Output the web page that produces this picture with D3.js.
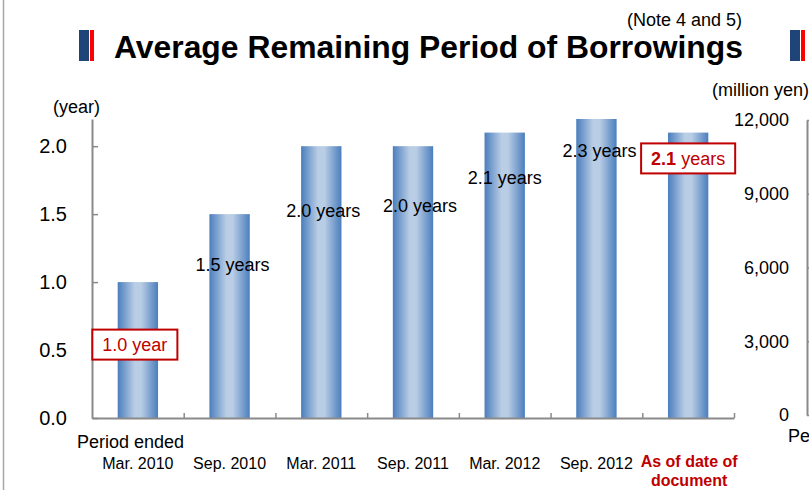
<!DOCTYPE html>
<html>
<head>
<meta charset="utf-8">
<script src="https://cdn.jsdelivr.net/npm/d3@7"></script>
<style>
  html, body { margin: 0; padding: 0; background: #fff; }
  svg { display: block; font-family: "Liberation Sans", Arial, sans-serif; }
</style>
</head>
<body>
<svg id="chart" width="809" height="490"></svg>
<script>
// Average remaining period of borrowings, in years
const periods = ["Mar. 2010", "Sep. 2010", "Mar. 2011", "Sep. 2011", "Mar. 2012", "Sep. 2012", "As of date of document"];
const remainingYears = [1.0, 1.5, 2.0, 2.0, 2.1, 2.3, 2.1];
const yearTicks = [0, 0.5, 1.0, 1.5, 2.0];
const yenTicks = [0, 3000, 6000, 9000, 12000];

// Where each value label sits: height in axis units, horizontal nudge in px
const labelLift = [0.54, 1.13, 1.53, 1.56, 1.77, 1.97, 1.91];
const labelNudge = [-3, 3, 2, 7, 0, 3, 0];
const boxedLabels = [0, 6];

const RED = "#c00000";
const AXIS = "#8a8a8a";

const svg = d3.select("#chart");

// Page frame line at the left
svg.append("line").attr("x1", 3.5).attr("x2", 3.5).attr("y1", 0).attr("y2", 490)
  .attr("stroke", "#a6a6a6").attr("stroke-width", 1.5);

// Title with its marker blocks
function marker(x) {
  svg.append("rect").attr("x", x).attr("y", 30).attr("width", 10).attr("height", 31).attr("fill", "#1f4478");
  svg.append("rect").attr("x", x + 11).attr("y", 30).attr("width", 4).attr("height", 31).attr("fill", "#ff0000");
}
marker(79);
marker(790);
svg.append("text").attr("x", 114).attr("y", 58)
  .attr("font-size", 32).attr("font-weight", "bold")
  .attr("textLength", 629).attr("lengthAdjust", "spacingAndGlyphs")
  .text("Average Remaining Period of Borrowings");
svg.append("text").attr("x", 742).attr("y", 26).attr("text-anchor", "end")
  .attr("font-size", 18).text("(Note 4 and 5)");

// Scales
const y = d3.scaleLinear().domain([0, 2.2]).range([418, 119]);
const x = d3.scaleBand().domain(periods).range([92, 734]).paddingInner(0.56).paddingOuter(0.28);
const slots = d3.scaleLinear().domain([0, periods.length]).range([92, 734]);

// Bar fill: light centre fading to blue edges
const defs = svg.append("defs");
const grad = defs.append("linearGradient").attr("id", "barFill")
  .attr("x1", "0%").attr("x2", "100%").attr("y1", "0%").attr("y2", "0%");
[[0, "#4b7ebd"], [0.42, "#b9cde5"], [0.58, "#b9cde5"], [1, "#4b7ebd"]].forEach(([o, c]) =>
  grad.append("stop").attr("offset", o).attr("stop-color", c));
defs.append("clipPath").attr("id", "plotClip").append("rect")
  .attr("x", 92).attr("y", y.range()[1]).attr("width", 642).attr("height", y.range()[0] - y.range()[1]);

// Bars (values beyond the axis maximum are cut at the top)
svg.append("g").attr("clip-path", "url(#plotClip)")
  .selectAll("rect").data(remainingYears).join("rect")
  .attr("x", (d, i) => x(periods[i]))
  .attr("width", x.bandwidth())
  .attr("y", d => y(d))
  .attr("height", d => y(0) - y(d))
  .attr("fill", "url(#barFill)");

// Left axis
const yAxis = svg.append("g").attr("transform", "translate(92,0)")
  .call(d3.axisLeft(y).tickValues(yearTicks).tickFormat(d3.format(".1f"))
    .tickSizeInner(-6).tickSizeOuter(0).tickPadding(25));
yAxis.select(".domain").attr("stroke", AXIS).attr("stroke-width", 2);
yAxis.selectAll(".tick line").attr("stroke", AXIS).attr("stroke-width", 1.5);
yAxis.selectAll(".tick text").attr("font-size", 20).attr("fill", "#000")
  .attr("font-family", "'Liberation Sans', Arial, sans-serif");
svg.append("text").attr("x", 100).attr("y", 113).attr("text-anchor", "end")
  .attr("font-size", 18).text("(year)");

// Bottom axis with dividers between periods
const xAxis = svg.append("g").attr("transform", "translate(0,418)")
  .call(d3.axisBottom(slots).tickValues(d3.range(1, periods.length + 1))
    .tickFormat("").tickSizeInner(-5).tickSizeOuter(0));
xAxis.select(".domain").attr("stroke", AXIS).attr("stroke-width", 2);
xAxis.selectAll(".tick line").attr("stroke", AXIS).attr("stroke-width", 1.5);

svg.append("text").attr("x", 77).attr("y", 447.5).attr("font-size", 18).text("Period ended");

// Period names
periods.forEach((p, i) => {
  const cx = x(p) + x.bandwidth() / 2;
  if (i === periods.length - 1) {
    const t = svg.append("text").attr("text-anchor", "middle").attr("font-size", 16)
      .attr("font-weight", "bold").attr("fill", RED);
    t.append("tspan").attr("x", cx + 1).attr("y", 466.5).text("As of date of");
    t.append("tspan").attr("x", cx + 1).attr("y", 485.5).text("document");
  } else {
    svg.append("text").attr("x", cx).attr("y", 468.5).attr("text-anchor", "middle")
      .attr("font-size", 16).text(p);
  }
});

// Value labels
remainingYears.forEach((v, i) => {
  const cx = x(periods[i]) + x.bandwidth() / 2 + labelNudge[i];
  const cy = y(labelLift[i]);
  const num = v.toFixed(1);
  const unit = v === 1 ? " year" : " years";
  const boxed = boxedLabels.includes(i);
  const g = svg.append("g");
  const t = g.append("text").attr("x", cx).attr("y", cy + 6.5).attr("text-anchor", "middle")
    .attr("font-size", 18).attr("fill", boxed ? RED : "#000");
  if (i === periods.length - 1) {
    t.append("tspan").attr("font-weight", "bold").text(num);
    t.append("tspan").text(unit);
  } else {
    t.text(num + unit);
  }
  if (boxed) {
    const w = t.node().getComputedTextLength();
    g.insert("rect", "text")
      .attr("x", cx - w / 2 - 10).attr("y", cy - 15)
      .attr("width", w + 20).attr("height", 30)
      .attr("fill", "#fff").attr("stroke", RED).attr("stroke-width", 2);
  }
});

// Neighbouring panel: amount axis in million yen
const yYen = d3.scaleLinear().domain([0, 12000]).range([415, 120]);
const yenAxis = svg.append("g").attr("transform", "translate(807,0)")
  .call(d3.axisLeft(yYen).tickValues(yenTicks).tickFormat(d3.format(","))
    .tickSizeInner(-6).tickSizeOuter(0).tickPadding(18));
yenAxis.select(".domain").attr("stroke", AXIS).attr("stroke-width", 2);
yenAxis.selectAll(".tick line").attr("stroke", AXIS).attr("stroke-width", 1.5);
yenAxis.selectAll(".tick text").attr("font-size", 18).attr("fill", "#000")
  .attr("font-family", "'Liberation Sans', Arial, sans-serif");
svg.append("text").attr("x", 712).attr("y", 95.5).attr("font-size", 18).text("(million yen)");
// The neighbouring panel's period caption runs past the right edge
svg.append("text").attr("x", 788).attr("y", 441.5).attr("font-size", 18).text("Period ended");
</script>
</body>
</html>
